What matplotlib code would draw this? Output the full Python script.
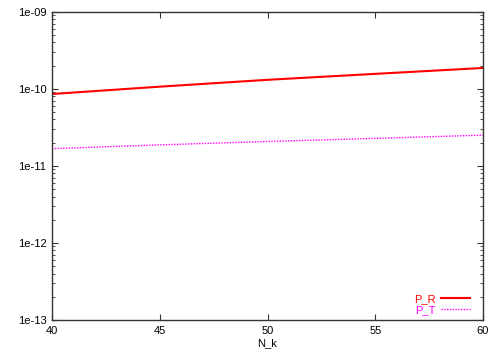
import matplotlib
matplotlib.use("Agg")
import matplotlib.pyplot as plt
from matplotlib.ticker import LogLocator, NullFormatter

N_k = [40, 45, 50, 55, 60]
P_R = [8.55e-11, 1.064e-10, 1.306e-10, 1.56e-10, 1.86e-10]
P_T = [1.67e-11, 1.87e-11, 2.07e-11, 2.27e-11, 2.50e-11]
x_ticks = [40, 45, 50, 55, 60]
y_ticks = [1e-13, 1e-12, 1e-11, 1e-10, 1e-9]
y_labels = ["1e-13", "1e-12", "1e-11", "1e-10", "1e-09"]

plt.rcParams['font.family'] = ['Liberation Sans', 'DejaVu Sans']
fig = plt.figure(figsize=(5, 3.5), dpi=100)
ax = fig.add_axes([0.104, 0.0857, 0.862, 0.881])

ax.plot(N_k, P_R, color='#ff0000', lw=1.5, label='P_R')
ax.plot(N_k, P_T, color='#ff00ff', lw=1.0, ls=(0, (1, 1)), label='P_T')

ax.set_yscale('log')
ax.set_xlim(40, 60)
ax.set_ylim(1e-13, 1e-9)
ax.set_xticks(x_ticks)
ax.set_xticklabels([str(v) for v in x_ticks])
ax.set_yticks(y_ticks)
ax.set_yticklabels(y_labels)
ax.yaxis.set_minor_locator(LogLocator(base=10, subs=range(2, 10), numticks=20))
ax.yaxis.set_minor_formatter(NullFormatter())
ax.tick_params(axis='both', which='major', direction='in', length=4, width=0.8,
               top=True, right=True, labelsize=8, pad=4, colors='#333333', labelcolor='black')
ax.tick_params(axis='y', which='minor', direction='in', length=2, width=0.6,
               left=True, right=True, colors='#333333')
for s in ax.spines.values():
    s.set_color('#333333')
    s.set_linewidth(1.0)
ax.set_xlabel('N_k', fontsize=8, labelpad=2)

leg = ax.legend(loc='lower right', bbox_to_anchor=(0.981, 0.0), frameon=False,
                markerfirst=False, labelcolor='linecolor', fontsize=8,
                handlelength=2.6, handletextpad=0.5, labelspacing=0.1,
                borderaxespad=0.15, borderpad=0.3)

fig.savefig('out.png', dpi=100)
